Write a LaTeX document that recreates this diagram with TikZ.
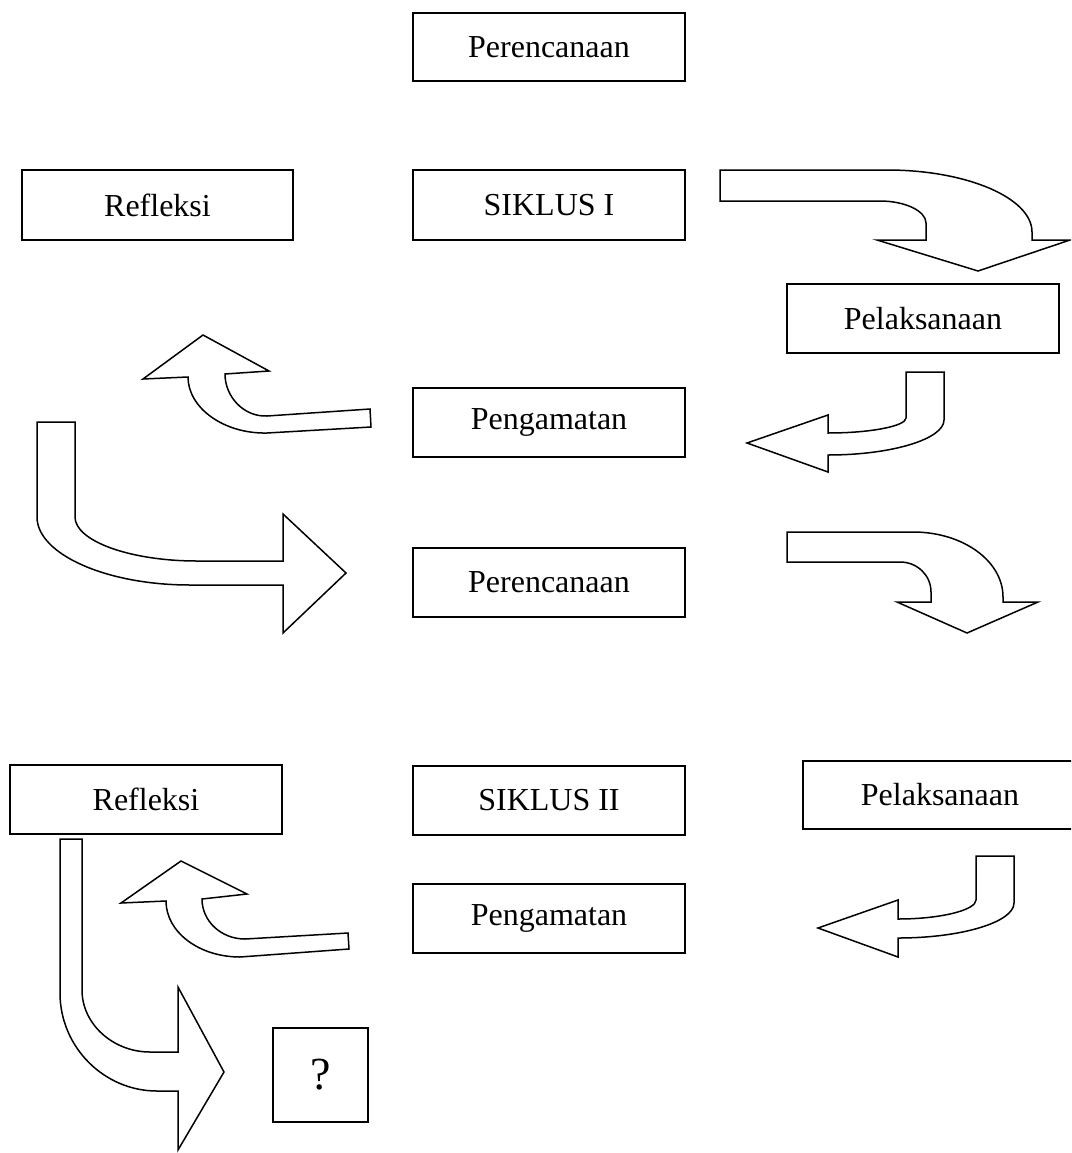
\documentclass[tikz,border=0pt]{standalone}
\usepackage{fontspec}
\setmainfont{Liberation Serif}
\begin{document}
\begin{tikzpicture}[x=1pt,y=-1pt,
  box/.style={draw,line width=1.6pt,inner sep=0pt,font=\fontsize{32}{38}\selectfont},
  blockarrow/.style={draw,line width=1.5pt,line join=miter,fill=white}]
\useasboundingbox (0,0) rectangle (1071,1153);
\clip (0,0) rectangle (1071,1153);
% boxes
\node[box,minimum width=272,minimum height=68] (p1) at (549,47) {Perencanaan};
\node[box,minimum width=271,minimum height=70] (r1) at (157.5,205) {Refleksi};
\node[box,minimum width=272,minimum height=70] (s1) at (549,205) {SIKLUS I};
\node[box,minimum width=272,minimum height=69] (l1) at (923,318.5) {Pelaksanaan};
\node[box,minimum width=272,minimum height=69] (g1) at (549,422.5) {Pengamatan};
\node[box,minimum width=272,minimum height=69] (p2) at (549,582.5) {Perencanaan};
\node[box,minimum width=272,minimum height=69] (r2) at (146,799.5) {Refleksi};
\node[box,minimum width=272,minimum height=69] (s2) at (549,800.5) {SIKLUS II};
\node[box,minimum width=274,minimum height=68] (l2) at (940,795) {Pelaksanaan};
\node[box,minimum width=272,minimum height=69] (g2) at (549,918.5) {Pengamatan};
\node[box,minimum width=95,minimum height=94,font=\fontsize{46}{52}\selectfont] (q) at (320.5,1075) {?};
% block arrows
% 1: SIKLUS I -> Pelaksanaan
\draw[blockarrow] (720,170) -- (887,170) .. controls (967,170) and (1032,198) .. (1032,232) -- (1032,240) -- (1070,240) -- (978,271) -- (877,240) -- (926,240) -- (926,223) .. controls (926,211) and (905,201) .. (880,201) -- (720,201) -- cycle;
% 2: Pengamatan -> Refleksi
\draw[blockarrow] (370,409) -- (267,416) .. controls (244,417) and (225,397) .. (225,374) -- (269,371) -- (203,335) -- (143,379) -- (188,377) .. controls (188,408) and (224,434) .. (267,433) -- (371,427) -- cycle;
% 3: Refleksi -> Perencanaan
\draw[blockarrow] (37,422) -- (75,422) -- (75,517) .. controls (75,541) and (130,561) .. (197,561) -- (283,561) -- (283,514) -- (346,573) -- (283,633) -- (283,585) -- (190,585) .. controls (106,585) and (37,554) .. (37,517) -- cycle;
% 4: Pelaksanaan -> Pengamatan
\draw[blockarrow] (906,372) -- (944,372) -- (944,420) .. controls (944,439) and (892,455) .. (828,455) -- (828,472) -- (747,443) -- (828,415) -- (828,433) .. controls (871,433) and (906,426) .. (906,418) -- cycle;
% 5: Perencanaan 2 -> Pelaksanaan 2
\draw[blockarrow] (787,532) -- (913,532) .. controls (963,532) and (1003,561) .. (1003,597) -- (1003,602) -- (1038,602) -- (967,633) -- (897,602) -- (931,602) -- (931,592) .. controls (931,575) and (917,562) .. (900,562) -- (787,562) -- cycle;
% 6: Refleksi 2 -> ?
\draw[blockarrow] (60,839) -- (82,839) -- (82,990) .. controls (82,1024) and (113,1052) .. (150,1052) -- (178,1052) -- (178,987) -- (224,1072) -- (178,1150) -- (178,1091) -- (157,1091) .. controls (104,1091) and (60,1047) .. (60,993) -- cycle;
% 7: Pengamatan 2 -> Refleksi 2
\draw[blockarrow] (348,933) -- (245,939) .. controls (221,939) and (202,921) .. (202,899) -- (247,894) -- (181,861) -- (121,903) -- (166,901) .. controls (166,932) and (199,957) .. (240,957) -- (349,949) -- cycle;
% 8: Pelaksanaan 2 -> Pengamatan 2
\draw[blockarrow] (976,856) -- (1014,856) -- (1014,903) .. controls (1014,922) and (962,938) .. (898,938) -- (898,957) -- (818,928) -- (898,900) -- (898,919) .. controls (941,919) and (976,910) .. (976,900) -- cycle;
\end{tikzpicture}
\end{document}
